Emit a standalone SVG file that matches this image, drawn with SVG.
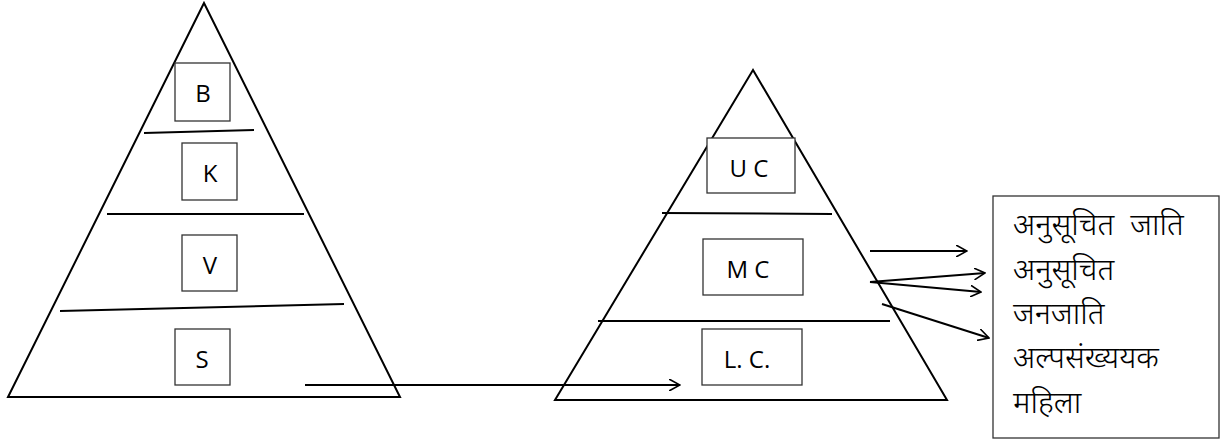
<svg xmlns="http://www.w3.org/2000/svg" width="1223" height="445" viewBox="0 0 1223 445">
<style>
.ln{stroke:#000;stroke-width:2;fill:none}
.bx{stroke:#333;stroke-width:1.3;fill:#fff}
.lb{font-family:"Open Sans","Liberation Sans",sans-serif;font-size:24px;fill:#000;text-anchor:middle}
.hi{font-family:"Noto Sans Devanagari","Noto Sans","Lohit Devanagari",sans-serif;font-size:31px;font-weight:300;fill:#000}
</style>
<defs>
<marker id="ah" viewBox="0 0 12 12" refX="11" refY="6" markerWidth="12" markerHeight="12" markerUnits="userSpaceOnUse" orient="auto">
<path d="M0,0 L11,6 L0,12" fill="none" stroke="#000" stroke-width="1.6"/>
</marker>
</defs>
<g id="pyramid-left">
<polygon class="ln" points="204,3 8,397 400,397"/>
<line class="ln" x1="144" y1="133" x2="254" y2="130"/>
<line class="ln" x1="107" y1="214" x2="304" y2="214"/>
<line class="ln" x1="60" y1="311" x2="344" y2="304"/>
</g>
<g id="node-B"><rect class="bx" x="175" y="63" width="55" height="58"/><text class="lb" x="203" y="102">B</text></g>
<g id="node-K"><rect class="bx" x="182" y="143" width="55" height="57"/><text class="lb" x="210" y="182">K</text></g>
<g id="node-V"><rect class="bx" x="182" y="235" width="55" height="56"/><text class="lb" x="210" y="274">V</text></g>
<g id="node-S"><rect class="bx" x="175" y="329" width="55" height="56"/><text class="lb" x="202" y="368">S</text></g>
<g id="pyramid-right">
<polygon class="ln" points="753,70 555,400 947,400"/>
<line class="ln" x1="662" y1="213" x2="832" y2="214"/>
<line class="ln" x1="598" y1="321" x2="890" y2="321"/>
</g>
<g id="node-UC"><rect class="bx" x="707" y="138" width="88" height="55"/><text class="lb" x="749" y="177">U C</text></g>
<g id="node-MC"><rect class="bx" x="703" y="239" width="100" height="56"/><text class="lb" x="748" y="278">M C</text></g>
<g id="node-LC"><rect class="bx" x="702" y="329" width="100" height="56"/><text class="lb" x="747" y="368">L. C.</text></g>
<g id="node-list">
<rect class="bx" x="993" y="196" width="226" height="242"/>
<text class="hi" x="1013" y="235" xml:space="preserve">अनुसूचित  जाति</text>
<text class="hi" x="1013" y="280">अनुसूचित</text>
<text class="hi" x="1013" y="324">जनजाति</text>
<text class="hi" x="1013" y="368">अल्पसंख्ययक</text>
<text class="hi" x="1013" y="413">महिला</text>
</g>
<g id="connectors">
<line class="ln" x1="305" y1="385" x2="680" y2="385" marker-end="url(#ah)"/>
<line class="ln" x1="870" y1="251" x2="967" y2="251" marker-end="url(#ah)"/>
<line class="ln" x1="870" y1="282" x2="985" y2="273" marker-end="url(#ah)"/>
<line class="ln" x1="870" y1="282" x2="981" y2="292" marker-end="url(#ah)"/>
<line class="ln" x1="882" y1="304" x2="989" y2="338" marker-end="url(#ah)"/>
</g>
</svg>
